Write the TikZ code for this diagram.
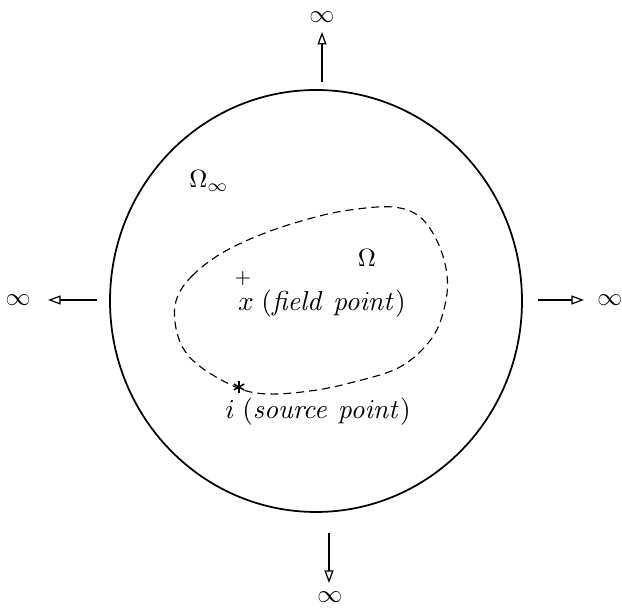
\documentclass[tikz,border=0pt]{standalone}
\usetikzlibrary{arrows.meta,shapes.geometric}
\begin{document}
\begin{tikzpicture}[x=0.4pt,y=-0.4pt,
  farrow/.style={line width=0.5pt,-{Triangle[open,length=5pt,width=3.6pt]}},
  lbl/.style={inner sep=0pt},
  blbl/.style={inner sep=0pt,font=\fontsize{11.2}{13}\selectfont},
  starline/.style={line width=0.6pt}]
\useasboundingbox (0,0) rectangle (622,610);
\node[draw,ellipse,line width=0.7pt,minimum width=412*0.4pt,minimum height=422*0.4pt,inner sep=0pt] (disc) at (316,301) {};
% infinity labels
\node[lbl] (itop) at (322,17) {$\infty$};
\node[lbl] (ileft) at (18,300) {$\infty$};
\node[lbl] (iright) at (610,300) {$\infty$};
\node[lbl] (ibot) at (330,597) {$\infty$};
\coordinate (ta) at (322,82);
\coordinate (tb) at (322,32);
\coordinate (la) at (97,300);
\coordinate (lb) at (48,300);
\coordinate (ra) at (538,300);
\coordinate (rb) at (584,300);
\coordinate (ba) at (329,533);
\coordinate (bb) at (329,583);
\draw[farrow] (ta) -- (tb);
\draw[farrow] (la) -- (lb);
\draw[farrow] (ra) -- (rb);
\draw[farrow] (ba) -- (bb);
% dashed region
\draw[dashed,dash pattern=on 3.2pt off 2pt,line width=0.45pt] plot[smooth cycle,tension=0.6] coordinates {
 (177,298) (192,276) (222,253) (265,233) (312,218) (350,210) (393,207) (420,217) (438,243) (447,275) (445,305) (432,338) (400,367) (350,383) (310,391) (268,394) (238,388) (202,368) (183,348) (175,322)};
\node[lbl] (om) at (367,258) {$\Omega$};
\node[lbl] (ominf) at (209,181) {$\Omega_\infty$};
\node[lbl] (plus) at (243,279) {\footnotesize $+$};
\node[blbl] (xf) at (322,304) {$x\;(\mathit{field\ point})$};
\coordinate (star) at (239,387);
\draw[starline] ([shift={(0,-6)}]star) -- ([shift={(0,6)}]star);
\draw[starline] ([shift={(-5.2,-3)}]star) -- ([shift={(5.2,3)}]star);
\draw[starline] ([shift={(-5.2,3)}]star) -- ([shift={(5.2,-3)}]star);
\node[blbl] (src) at (318,412) {$i\;(\mathit{source\ point})$};
\end{tikzpicture}
\end{document}
